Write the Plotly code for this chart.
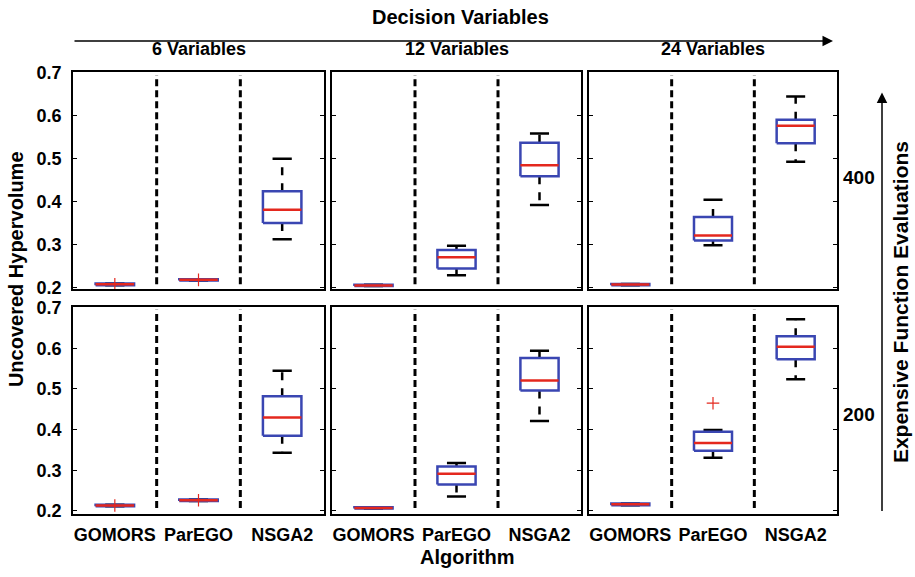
import plotly.graph_objects as go
from plotly.subplots import make_subplots

categories = ["GOMORS", "ParEGO", "NSGA2"]
panel_titles = ["6 Variables", "12 Variables", "24 Variables"]
row_labels = ["400", "200"]
y_ticks = [0.2, 0.3, 0.4, 0.5, 0.6, 0.7]

# Top row: 400 expensive evaluations; columns 6 / 12 / 24 variables; entries [GOMORS, ParEGO, NSGA2]
top_lower = [[0.205, 0.216, 0.312], [0.203, 0.228, 0.392], [0.205, 0.298, 0.493]]
top_q1 = [[0.205, 0.216, 0.350], [0.203, 0.244, 0.459], [0.205, 0.309, 0.536]]
top_median = [[0.207, 0.2175, 0.381], [0.2045, 0.270, 0.485], [0.2065, 0.321, 0.577]]
top_q3 = [[0.209, 0.219, 0.424], [0.206, 0.287, 0.537], [0.208, 0.364, 0.591]]
top_upper = [[0.209, 0.219, 0.500], [0.206, 0.297, 0.559], [0.208, 0.404, 0.645]]

# Bottom row: 200 expensive evaluations
bot_lower = [[0.211, 0.224, 0.343], [0.206, 0.235, 0.421], [0.214, 0.331, 0.524]]
bot_q1 = [[0.211, 0.224, 0.385], [0.206, 0.265, 0.496], [0.214, 0.348, 0.573]]
bot_median = [[0.213, 0.226, 0.430], [0.207, 0.291, 0.521], [0.216, 0.367, 0.604]]
bot_q3 = [[0.215, 0.228, 0.482], [0.209, 0.309, 0.576], [0.218, 0.395, 0.630]]
bot_upper = [[0.215, 0.228, 0.545], [0.209, 0.318, 0.594], [0.218, 0.399, 0.672]]

# outliers: (row, column, category index, value)
outliers = [(0, 0, 0, 0.207), (0, 0, 1, 0.2175), (1, 0, 0, 0.213), (1, 0, 1, 0.226), (1, 2, 1, 0.465)]

BLUE = "rgb(58,70,178)"
RED = "rgb(228,40,30)"
FONT = "Liberation Sans, Arial, Helvetica, sans-serif"
W, H = 915, 577

fig = make_subplots(rows=2, cols=3)

rows = [
    (top_lower, top_q1, top_median, top_q3, top_upper),
    (bot_lower, bot_q1, bot_median, bot_q3, bot_upper),
]

half_box = 0.23
half_cap = 0.115

for r, (lo, q1, md, q3, up) in enumerate(rows):
    for c in range(3):
        for k in range(3):
            xc = k + 1
            # whiskers (dashed)
            fig.add_trace(go.Scatter(
                x=[xc, xc, None, xc, xc],
                y=[q3[c][k], up[c][k], None, q1[c][k], lo[c][k]],
                mode="lines", line=dict(color="black", width=2.5, dash="8px,8px"),
                hoverinfo="skip", showlegend=False), row=r + 1, col=c + 1)
            # caps
            fig.add_trace(go.Scatter(
                x=[xc - half_cap, xc + half_cap, None, xc - half_cap, xc + half_cap],
                y=[up[c][k], up[c][k], None, lo[c][k], lo[c][k]],
                mode="lines", line=dict(color="black", width=2.5),
                hoverinfo="skip", showlegend=False), row=r + 1, col=c + 1)
            # box
            fig.add_trace(go.Scatter(
                x=[xc - half_box, xc + half_box, xc + half_box, xc - half_box, xc - half_box],
                y=[q1[c][k], q1[c][k], q3[c][k], q3[c][k], q1[c][k]],
                mode="lines", line=dict(color=BLUE, width=2.5),
                hoverinfo="skip", showlegend=False), row=r + 1, col=c + 1)
            # median
            fig.add_trace(go.Scatter(
                x=[xc - half_box, xc + half_box],
                y=[md[c][k], md[c][k]],
                mode="lines", line=dict(color=RED, width=2.5),
                hoverinfo="skip", showlegend=False), row=r + 1, col=c + 1)
        # separators between algorithms
        for s in (1.5, 2.5):
            fig.add_trace(go.Scatter(
                x=[s, s], y=[0.207, 0.695], mode="lines",
                line=dict(color="black", width=3, dash="7px,4px"),
                hoverinfo="skip", showlegend=False), row=r + 1, col=c + 1)

for (r, c, k, v) in outliers:
    fig.add_trace(go.Scatter(
        x=[k + 1], y=[v], mode="markers",
        marker=dict(symbol="cross-thin", size=9, line=dict(color=RED, width=1.2)),
        hoverinfo="skip", showlegend=False), row=r + 1, col=c + 1)

# panel geometry in pixels
x_edges = [(73, 324), (332, 581), (589, 837)]
y_edges = [(65, 289), (307, 520)]
y_ranges = [[0.195, 0.702], [0.193, 0.702]]

for r in range(2):
    for c in range(3):
        idx = r * 3 + c + 1
        xa = "xaxis" if idx == 1 else f"xaxis{idx}"
        ya = "yaxis" if idx == 1 else f"yaxis{idx}"
        x0, x1 = x_edges[c]
        y0, y1 = y_edges[r]
        fig.layout[xa].update(
            domain=[x0 / W, x1 / W], range=[0.5, 3.5],
            tickvals=[1, 2, 3], ticktext=categories,
            showticklabels=(r == 1), ticks="",
            showline=True, mirror=True, linecolor="black", linewidth=1.5,
            showgrid=False, zeroline=False, fixedrange=True,
            tickfont=dict(family=FONT, size=18, color="black", weight="bold"),
            ticklabelstandoff=4,
        )
        fig.layout[ya].update(
            domain=[1 - y1 / H, 1 - y0 / H], range=y_ranges[r],
            tickvals=y_ticks, ticktext=[f"{v:.1f}" for v in y_ticks],
            showticklabels=(c == 0), ticks="inside", ticklen=4, tickwidth=1,
            tickcolor="black",
            showline=True, mirror="ticks", linecolor="black", linewidth=1.5,
            showgrid=False, zeroline=False, fixedrange=True,
            tickfont=dict(family=FONT, size=18, color="black", weight="bold"),
            ticklabelstandoff=6,
        )

annotations = []
def txt(text, x, y, size, angle=0, yanchor="middle"):
    annotations.append(dict(
        text=text, x=x / W, y=1 - y / H, xref="paper", yref="paper",
        showarrow=False, xanchor="center", yanchor=yanchor, textangle=angle,
        font=dict(family=FONT, size=size, color="black", weight="bold")))

txt("Decision Variables", 460, 8, 20)
for c, t in enumerate(panel_titles):
    x0, x1 = x_edges[c]
    txt(t, (x0 + x1) / 2, 41, 18)
txt("Uncovered Hypervolume", 16, 268, 20, -90)
txt("Algorithm", 467, 551, 20, yanchor="top")
txt("Expensive Function Evaluations", 900, 302, 21, -90)
txt(row_labels[0], 859, 174, 19)
txt(row_labels[1], 859, 418, 19)

# arrows
annotations.append(dict(
    x=833 / W, y=1 - 33 / H, xref="paper", yref="paper",
    ax=-(833 - 73), ay=0, axref="pixel", ayref="pixel",
    showarrow=True, arrowhead=2, arrowsize=1.4, arrowwidth=1.5, arrowcolor="black", text=""))
annotations.append(dict(
    x=882 / W, y=1 - 86 / H, xref="paper", yref="paper",
    ax=0, ay=(506 - 86), axref="pixel", ayref="pixel",
    showarrow=True, arrowhead=2, arrowsize=1.4, arrowwidth=1.5, arrowcolor="black", text=""))

fig.update_layout(
    width=W, height=H, margin=dict(l=0, r=0, t=0, b=0),
    plot_bgcolor="white", paper_bgcolor="white",
    annotations=annotations, showlegend=False,
)

fig.write_html("out.html", config={"displayModeBar": False},
               post_script="document.body.style.margin='0';")
